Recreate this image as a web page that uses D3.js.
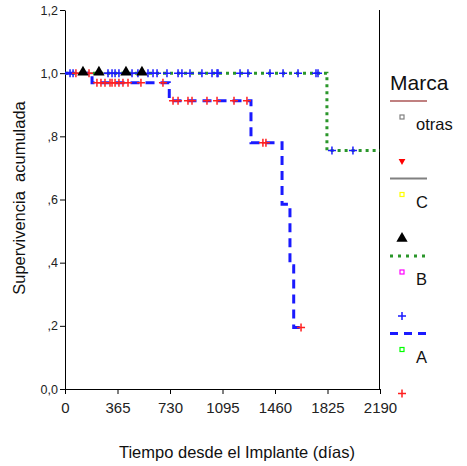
<!DOCTYPE html>
<html lang="es">
<head>
<meta charset="utf-8">
<script src="https://d3js.org/d3.v7.min.js"></script>
<style>
  body { margin: 0; background: white; }
  svg { font-family: "Liberation Sans", Arial, sans-serif; }
  .axis path, .axis line { stroke: #000; }
  .axis text { fill: #222; }
</style>
</head>
<body>
<svg width="467" height="466"></svg>
<script>
// step curves: [day, cumulative survival]
const stepsA = [[0, 1], [188, 0.97], [725, 0.913], [1293, 0.78], [1509, 0.585], [1564, 0.39], [1590, 0.195], [1641, 0.195]];
const stepsB = [[0, 1], [1821, 0.755], [2190, 0.755]];
const stepsC = [[0, 1], [535, 1]];

// censored cases
const censA = [[76, 1], [167, 1],
  [222, 0.97], [250, 0.97], [278, 0.97], [313, 0.97], [327, 0.97], [348, 0.97], [375, 0.97], [403, 0.97], [438, 0.97], [528, 0.97], [681, 0.97],
  [751, 0.913], [786, 0.913], [855, 0.913], [883, 0.913], [987, 0.913], [1057, 0.913], [1175, 0.913], [1265, 0.913],
  [1376, 0.78], [1397, 0.78], [1641, 0.195]];
const censB = [35, 56, 299, 327, 348, 375, 466, 507, 577, 612, 640, 709, 786, 813, 869, 952, 1022, 1057, 1064,
  1217, 1272, 1425, 1516, 1620, 1745, 1759].map(d => [d, 1]).concat([[1856, 0.755], [2002, 0.755]]);
const censC = [[125, 1], [236, 1], [424, 1], [535, 1]];

const xTicks = [0, 365, 730, 1095, 1460, 1825, 2190];
const yTicks = [0, 0.2, 0.4, 0.6, 0.8, 1.0, 1.2];
const yLabels = ["0,0", ",2", ",4", ",6", ",8", "1,0", "1,2"];

const legendNames = ["otras", "C", "B", "A"];
const legendLine = ["#c08080", "#808080", "#2a962a", "#1a1aff"];
const legendSquare = ["#808080", "#ffff00", "#ff00ff", "#00ff00"];

const svg = d3.select("svg");
const x = d3.scaleLinear().domain([0, 2190]).range([65, 380]);
const y = d3.scaleLinear().domain([0, 1.2]).range([389, 10]);

svg.append("g").attr("class", "axis")
  .attr("transform", "translate(65,0)")
  .call(d3.axisLeft(y).tickValues(yTicks).tickSize(5).tickSizeOuter(0)
    .tickFormat((d, i) => yLabels[i]))
  .call(g => g.selectAll("text").attr("font-size", 12.5).attr("x", -7));

svg.append("g").attr("class", "axis")
  .attr("transform", "translate(0,389)")
  .call(d3.axisBottom(x).tickValues(xTicks).tickSize(5).tickSizeOuter(0).tickFormat(d3.format("d")))
  .call(g => g.selectAll("text").attr("font-size", 15).attr("y", 13));

svg.append("line").attr("x1", 379.5).attr("x2", 379.5).attr("y1", 10).attr("y2", 389)
  .attr("stroke", "#000");

svg.append("text").attr("x", 237).attr("y", 458).attr("text-anchor", "middle")
  .attr("font-size", 16.5).attr("fill", "#111").text("Tiempo desde el Implante (días)");
svg.append("text").attr("transform", "translate(25,198) rotate(-90)").attr("text-anchor", "middle")
  .attr("font-size", 16.5).attr("fill", "#111").style("white-space", "pre")
  .text("Supervivencia  acumulada");

const line = d3.line().x(d => x(d[0])).y(d => y(d[1])).curve(d3.curveStepAfter);

svg.append("path").attr("d", line(stepsC)).attr("fill", "none").attr("stroke", "#808080").attr("stroke-width", 2);
svg.append("path").attr("d", line(stepsB)).attr("fill", "none").attr("stroke", "#2a962a")
  .attr("stroke-width", 3).attr("stroke-dasharray", "3,4");
svg.append("path").attr("d", line(stepsA)).attr("fill", "none").attr("stroke", "#1a1aff")
  .attr("stroke-width", 3).attr("stroke-dasharray", "9,6");

function drawPlus(g, cx, cy, color) {
  g.append("path").attr("d", `M${cx - 4},${cy}H${cx + 4}M${cx},${cy - 4}V${cy + 4}`)
    .attr("stroke", color).attr("stroke-width", 1.5).attr("fill", "none");
}
function drawTri(g, cx, cy, color, down) {
  const s = down ? -1 : 1;
  g.append("path").attr("d", d3.symbol().type(d3.symbolTriangle).size(down ? 20 : 55)())
    .attr("transform", `translate(${cx},${cy}) scale(1,${s})`).attr("fill", color);
}

const marks = svg.append("g");
censB.forEach(d => drawPlus(marks, x(d[0]), y(d[1]), "#1a1aff"));
censA.forEach(d => drawPlus(marks, x(d[0]), y(d[1]), "#ff2020"));
censC.forEach(d => drawTri(marks, x(d[0]), y(d[1]) - 1, "#000", false));

// legend
const lg = svg.append("g");
lg.append("text").attr("x", 390).attr("y", 90).attr("font-size", 21).attr("fill", "#111").text("Marca");
const censColor = ["#ff0000", "#000", "#1a1aff", "#ff2020"];
legendNames.forEach((name, i) => {
  const top = 101 + i * 77.5;
  const l = lg.append("line").attr("x1", 390).attr("x2", 427).attr("y1", top).attr("y2", top)
    .attr("stroke", legendLine[i]);
  if (i === 2) l.attr("stroke-width", 3).attr("stroke-dasharray", "3,5");
  else if (i === 3) l.attr("stroke-width", 3).attr("stroke-dasharray", "8,6");
  else l.attr("stroke-width", 2);
  lg.append("rect").attr("x", 400).attr("y", top + 14).attr("width", 4).attr("height", 4)
    .attr("fill", "none").attr("stroke", legendSquare[i]).attr("stroke-width", 1.2);
  lg.append("text").attr("x", 416).attr("y", top + 29).attr("font-size", 16.5).attr("fill", "#111").text(name);
  const my = top + 60;
  if (i === 0) drawTri(lg, 402, my, censColor[i], true);
  else if (i === 1) drawTri(lg, 402, my, censColor[i], false);
  else drawPlus(lg, 402, my, censColor[i]);
});
</script>
</body>
</html>
